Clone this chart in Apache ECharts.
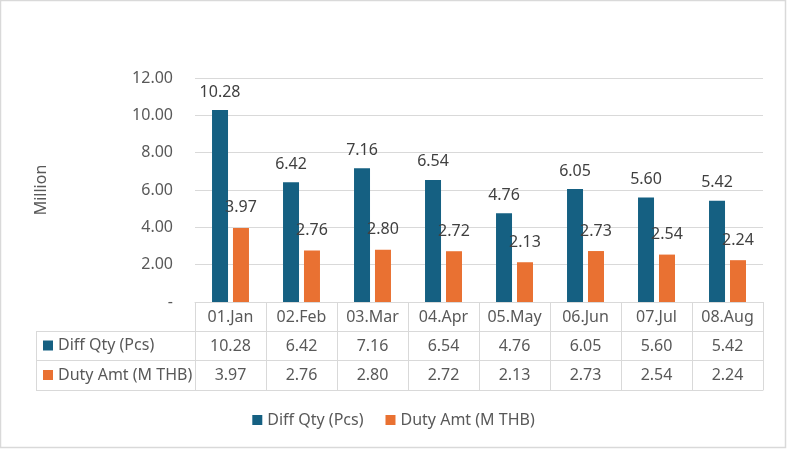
<!DOCTYPE html>
<html>
<head>
<meta charset="utf-8">
<style>
html,body{margin:0;padding:0;background:#fff;}
#chart{width:787px;height:450px;}
</style>
<script src="https://cdn.jsdelivr.net/npm/echarts@6/dist/echarts.min.js"></script>
</head>
<body>
<div id="chart"></div>
<script>
const categories = ['01.Jan','02.Feb','03.Mar','04.Apr','05.May','06.Jun','07.Jul','08.Aug'];
const diffQty = [10.28, 6.42, 7.16, 6.54, 4.76, 6.05, 5.60, 5.42];
const dutyAmt = [3.97, 2.76, 2.80, 2.72, 2.13, 2.73, 2.54, 2.24];
const seriesNames = ['Diff Qty (Pcs)', 'Duty Amt (M THB)'];
const colors = ['#156082', '#E97132'];

const FONT = 'Noto Sans';
const GRID = {left:195, right:24, top:78, bottom:148};
const ROW = [29, 29, 30];
const TABLE_LEFT = 36;
const lineC = '#d9d9d9';
const textC = '#595959';

const chart = echarts.init(document.getElementById('chart'));
const fmt = v => v.toFixed(2);
const baseY = 450 - GRID.bottom;
const y1 = baseY + ROW[0], y2 = y1 + ROW[1], y3 = y2 + ROW[2];

function tableAxis(data, offset, tickLen, showLine) {
  return {
    type: 'category', data: data, position: 'bottom', offset: offset,
    axisLine: {show: showLine, lineStyle: {color: lineC, width: 1}},
    axisTick: {show: tickLen > 0, length: tickLen, interval: 0, lineStyle: {color: lineC, width: 1}},
    axisLabel: {show: tickLen > 0, interval: 0, margin: 15, verticalAlign: 'middle',
      color: textC, fontSize: 16, fontFamily: FONT},
    splitLine: {show: false}
  };
}

const rowHeader = (i, yTop, h) => ([
  {type:'rect', shape:{x:43, y:yTop + h/2 - 5, width:10, height:10}, style:{fill:colors[i]}},
  {type:'text', x:58, y:yTop + h/2, style:{text:seriesNames[i], fill:textC, font:'16px "' + FONT + '"', textVerticalAlign:'middle'}}
]);

const option = {
  animation: false,
  grid: GRID,
  legend: {
    data: seriesNames, bottom: 17, left: 'center',
    icon: 'rect', itemWidth: 10, itemHeight: 10, itemGap: 22,
    textStyle: {color: textC, fontSize: 16, fontFamily: FONT}
  },
  xAxis: [
    tableAxis(categories, 0, ROW[0], true),
    tableAxis(diffQty.map(fmt), ROW[0], ROW[1], true),
    tableAxis(dutyAmt.map(fmt), ROW[0] + ROW[1], ROW[2], true),
    tableAxis(categories, ROW[0] + ROW[1] + ROW[2], 0, true)
  ],
  yAxis: {
    type: 'value', min: 0, max: 12, interval: 2,
    name: 'Million', nameLocation: 'middle', nameGap: 146, nameRotate: 90,
    nameTextStyle: {color: textC, fontSize: 16, fontFamily: FONT},
    axisLine: {show: false}, axisTick: {show: false},
    axisLabel: {color: textC, fontSize: 16, fontFamily: FONT, margin: 22,
      formatter: v => v === 0 ? '-' : v.toFixed(2)},
    splitLine: {lineStyle: {color: lineC, width: 1}}
  },
  series: [
    {name: seriesNames[0], type: 'bar', data: diffQty, barWidth: 16, barGap: '31%',
      itemStyle: {color: colors[0]},
      label: {show: true, position: 'top', distance: 10, formatter: p => fmt(p.value),
        color: '#404040', fontSize: 16, fontFamily: FONT}},
    {name: seriesNames[1], type: 'bar', data: dutyAmt, barWidth: 16, barGap: '31%',
      itemStyle: {color: colors[1]},
      label: {show: true, position: 'top', distance: 12, formatter: p => fmt(p.value),
        color: '#404040', fontSize: 16, fontFamily: FONT}}
  ],
  graphic: [
    {type:'rect', shape:{x:0.5, y:0.5, width:785, height:447}, style:{fill:'none', stroke:lineC, lineWidth:1.5}},
    {type:'line', shape:{x1:TABLE_LEFT, y1:y1+0.5, x2:GRID.left, y2:y1+0.5}, style:{stroke:lineC, lineWidth:1}},
    {type:'line', shape:{x1:TABLE_LEFT, y1:y2+0.5, x2:GRID.left, y2:y2+0.5}, style:{stroke:lineC, lineWidth:1}},
    {type:'line', shape:{x1:TABLE_LEFT, y1:y3+0.5, x2:GRID.left, y2:y3+0.5}, style:{stroke:lineC, lineWidth:1}},
    {type:'line', shape:{x1:TABLE_LEFT+0.5, y1:y1, x2:TABLE_LEFT+0.5, y2:y3}, style:{stroke:lineC, lineWidth:1}},
    ...rowHeader(0, y1, ROW[1]),
    ...rowHeader(1, y2, ROW[2])
  ]
};
chart.setOption(option);
</script>
</body>
</html>
